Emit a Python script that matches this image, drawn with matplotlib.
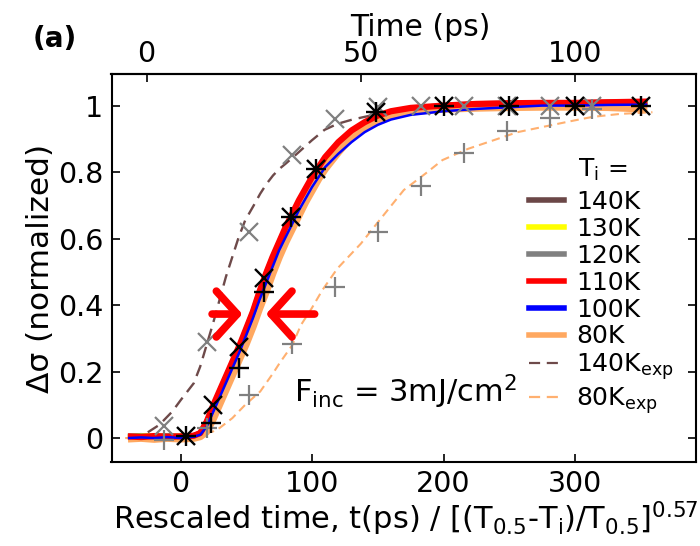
import numpy as np
import matplotlib
matplotlib.use("Agg")
import matplotlib.pyplot as plt
from matplotlib.lines import Line2D

plt.rcParams['font.family'] = ['DejaVu Sans']
plt.rcParams['mathtext.default'] = 'regular'

# ==================================================
# Data
# ==================================================

# rescaled time grid shared by the simulated curves
X_SIM = [-40, -30, -20, -10, 0, 10, 15, 20, 25, 30, 35, 40, 45, 50, 55, 60,
         65, 70, 75, 80, 85, 90, 95, 100, 105, 110, 120, 130, 140, 150, 160,
         175, 200, 225, 250, 275, 300, 325, 355]

Y_140K = [0.004, 0.006, 0.003, 0.005, 0.004, 0.006, 0.012, 0.045, 0.09, 0.135,
          0.18, 0.225, 0.27, 0.32, 0.37, 0.43, 0.485, 0.535, 0.58, 0.625,
          0.665, 0.705, 0.74, 0.775, 0.805, 0.835, 0.88, 0.915, 0.942, 0.962,
          0.977, 0.988, 0.998, 1.003, 1.005, 1.006, 1.006, 1.008, 1.008]
Y_130K = [0.003, 0.004, 0.005, 0.003, 0.004, 0.005, 0.01, 0.04, 0.085, 0.13,
          0.175, 0.22, 0.265, 0.315, 0.365, 0.42, 0.475, 0.525, 0.57, 0.615,
          0.655, 0.695, 0.73, 0.765, 0.795, 0.825, 0.87, 0.905, 0.935, 0.955,
          0.97, 0.983, 0.995, 1.0, 1.003, 1.004, 1.005, 1.006, 1.006]
Y_120K = [0.004, 0.005, 0.004, 0.006, 0.003, 0.006, 0.013, 0.047, 0.095, 0.14,
          0.185, 0.23, 0.275, 0.325, 0.375, 0.435, 0.49, 0.54, 0.585, 0.63,
          0.67, 0.71, 0.745, 0.78, 0.81, 0.84, 0.885, 0.92, 0.945, 0.965,
          0.98, 0.99, 0.999, 1.004, 1.006, 1.007, 1.007, 1.009, 1.01]
Y_110K = [0.005, 0.003, 0.006, 0.004, 0.005, 0.007, 0.015, 0.05, 0.10, 0.145,
          0.19, 0.235, 0.28, 0.33, 0.38, 0.44, 0.495, 0.545, 0.59, 0.635,
          0.675, 0.715, 0.75, 0.785, 0.815, 0.845, 0.89, 0.925, 0.95, 0.97,
          0.983, 0.993, 1.0, 1.005, 1.007, 1.008, 1.008, 1.01, 1.012]
Y_100K = [0.0, 0.002, 0.0, 0.003, 0.0, 0.004, 0.01, 0.035, 0.08, 0.125,
          0.17, 0.215, 0.26, 0.31, 0.36, 0.415, 0.465, 0.515, 0.565, 0.605,
          0.645, 0.685, 0.72, 0.755, 0.785, 0.815, 0.855, 0.89, 0.92, 0.942,
          0.958, 0.972, 0.983, 0.99, 0.995, 1.0, 1.0, 1.002, 1.003]
Y_80K = [-0.002, 0.0, -0.003, 0.0, -0.002, 0.0, 0.005, 0.02, 0.06, 0.105,
         0.15, 0.195, 0.24, 0.285, 0.335, 0.39, 0.44, 0.495, 0.545, 0.59,
         0.63, 0.67, 0.71, 0.745, 0.78, 0.81, 0.86, 0.905, 0.935, 0.955,
         0.97, 0.982, 0.99, 0.993, 0.995, 0.996, 0.996, 0.995, 0.99]

# experimental curves, plotted against real time (ps)
EXP140_T = [-4, 0, 3, 6, 8, 9.5, 11, 12.5, 14, 15.5, 17, 18.5, 20, 21.5, 23,
            25, 26.5, 28, 29.5, 31, 32.5, 35.5, 38.5, 41.5, 44.5, 48, 54, 57,
            63, 75, 88, 100, 115]
EXP140_Y = [0.005, 0.015, 0.04, 0.08, 0.115, 0.14, 0.165, 0.215, 0.28, 0.345,
            0.415, 0.485, 0.545, 0.605, 0.655, 0.70, 0.735, 0.765, 0.79, 0.81,
            0.826, 0.86, 0.895, 0.927, 0.945, 0.958, 0.975, 0.98, 0.99, 0.997,
            1.0, 1.002, 1.0]

EXP80_T = [-5, 2, 8, 12.5, 15.5, 17, 20, 23, 26.5, 29.5, 31, 34, 36, 38.5, 41,
           44.5, 50, 54, 60, 65, 69, 75, 81, 86.5, 92.5, 98.5, 104, 110.5, 118]
EXP80_Y = [0.0, 0.0, 0.0, 0.01, 0.02, 0.03, 0.06, 0.10, 0.14, 0.195, 0.225,
           0.28, 0.34, 0.39, 0.445, 0.51, 0.585, 0.65, 0.746, 0.795, 0.836,
           0.87, 0.896, 0.92, 0.936, 0.952, 0.966, 0.975, 0.98]

# sampled experimental points (gray), in ps
GRAY_T = [4, 14, 24, 34, 44, 54, 64, 74, 84, 94, 104]
GRAY_140K_Y = [0.037, 0.29, 0.62, 0.85, 0.96, 0.996, 1.0, 1.0, 1.0, 1.0, 1.0]
GRAY_80K_Y = [-0.006, 0.03, 0.13, 0.283, 0.455, 0.62, 0.758, 0.858, 0.924,
              0.964, 0.99]

# rescaled experimental points (black)
BLACK_140K_X = [4, 25, 44.3, 63.3, 84, 103, 149, 200, 250, 300, 350]
BLACK_140K_Y = [0.005, 0.099, 0.275, 0.48, 0.666, 0.81, 0.98, 1.0, 1.0, 1.0, 1.0]
BLACK_80K_X = [4, 23, 44.3, 63.3, 84, 103, 149, 200, 250, 300, 350]
BLACK_80K_Y = [0.005, 0.045, 0.21, 0.44, 0.666, 0.81, 0.98, 1.0, 1.0, 1.0, 1.0]

SIM_LABELS = ['140K', '130K', '120K', '110K', '100K', '80K']
SIM_COLORS = ['#6B4747', '#FFFF00', '#808080', '#FF0000', '#0000FF', '#FFA860']
EXP_COLORS = ['#6E4A4A', '#FFB070']


# time axis <-> rescaled axis
def to_ps(x):
    return (np.asarray(x) + 25.8) / 3.26


def from_ps(t):
    return np.asarray(t) * 3.26 - 25.8


# ==================================================
# Figure
# ==================================================

fig = plt.figure(figsize=(7.0, 5.46), dpi=100)
ax = fig.add_axes([111.5 / 700, 84 / 546, 584.5 / 700, 388 / 546])

# experimental (dashed)
ax.plot(from_ps(EXP140_T), EXP140_Y, color=EXP_COLORS[0], lw=1.7, dashes=(5, 3))
ax.plot(from_ps(EXP80_T), EXP80_Y, color=EXP_COLORS[1], lw=1.5, dashes=(4, 2.5))

# simulated curves
sims = {'140K': Y_140K, '130K': Y_130K, '120K': Y_120K,
        '110K': Y_110K, '100K': Y_100K, '80K': Y_80K}
color_of = dict(zip(SIM_LABELS, SIM_COLORS))
for name, lw in [('140K', 4.5), ('120K', 4.5), ('130K', 4.5),
                 ('80K', 5.5), ('110K', 4.5), ('100K', 1.8)]:
    ax.plot(X_SIM, sims[name], color=color_of[name], lw=lw,
            solid_capstyle='butt')

# markers
ax.plot(from_ps(GRAY_T), GRAY_140K_Y, ls='none', marker='x', ms=13, mew=1.6,
        color='#808080')
ax.plot(from_ps(GRAY_T), GRAY_80K_Y, ls='none', marker='+', ms=15, mew=1.6,
        color='#808080')
ax.plot(BLACK_140K_X, BLACK_140K_Y, ls='none', marker='x', ms=13, mew=1.7,
        color='black')
ax.plot(BLACK_80K_X, BLACK_80K_Y, ls='none', marker='+', ms=15, mew=1.7,
        color='black')

# red arrows
arrow_kw = dict(arrowstyle='->,head_length=0.5,head_width=0.55', color='red',
                lw=5.5, mutation_scale=30, shrinkA=0, shrinkB=0)
ax.annotate('', xy=(47, 0.373), xytext=(24, 0.373), arrowprops=arrow_kw)
ax.annotate('', xy=(65, 0.373), xytext=(102, 0.373), arrowprops=arrow_kw)

# axes cosmetics
ax.set_xlim(-52.5, 392)
ax.set_ylim(-0.072, 1.095)
ax.set_xticks([0, 100, 200, 300])
ax.set_yticks([0, 0.2, 0.4, 0.6, 0.8, 1.0])
ax.set_yticklabels(['0', '0.2', '0.4', '0.6', '0.8', '1'])
ax.tick_params(direction='in', length=6, width=1.2, labelsize=20.5, pad=6,
               top=False, right=True)
for sp in ax.spines.values():
    sp.set_linewidth(1.5)

ax.set_xlabel(r'Rescaled time, t(ps) / [(T$_{0.5}$-T$_{i}$)/T$_{0.5}$]$^{0.57}$',
              fontsize=22, labelpad=1)
ax.xaxis.label.set_x(0.503)
ax.set_ylabel('Δσ (normalized)', fontsize=22.5, labelpad=2)

sec = ax.secondary_xaxis('top', functions=(to_ps, from_ps))
sec.set_xticks([0, 50, 100])
sec.tick_params(direction='in', length=6, width=1.2, labelsize=20.5, pad=4)
sec.spines['top'].set_linewidth(1.5)
sec.set_xlabel('Time (ps)', fontsize=21.5, labelpad=3)
sec.xaxis.label.set_x(0.528)

# annotations
ax.text(86, 0.108, r'F$_{inc}$ = 3mJ/cm$^{2}$', fontsize=22,
        ha='left', va='baseline')
fig.text(33 / 700, 1 - 39 / 546, '(a)', fontsize=20, fontweight='bold',
         ha='left', va='center')

# legend
handles = [Line2D([], [], color=c, lw=4) for c in SIM_COLORS]
handles.append(Line2D([], [], color=EXP_COLORS[0], lw=1.6, dashes=(5, 3)))
handles.append(Line2D([], [], color=EXP_COLORS[1], lw=1.6, dashes=(5, 3)))
labels = SIM_LABELS + ['140K$_{exp}$', '80K$_{exp}$']
ax.legend(handles, labels, loc='upper left', bbox_to_anchor=(0.714, 0.701),
          frameon=False, fontsize=18, handlelength=1.4, handletextpad=0.5,
          labelspacing=0.115, borderpad=0, borderaxespad=0)
ax.text(0.798, 0.752, 'T$_i$ =', transform=ax.transAxes, fontsize=18,
        ha='left', va='center')

fig.savefig('out.png', dpi=100)
